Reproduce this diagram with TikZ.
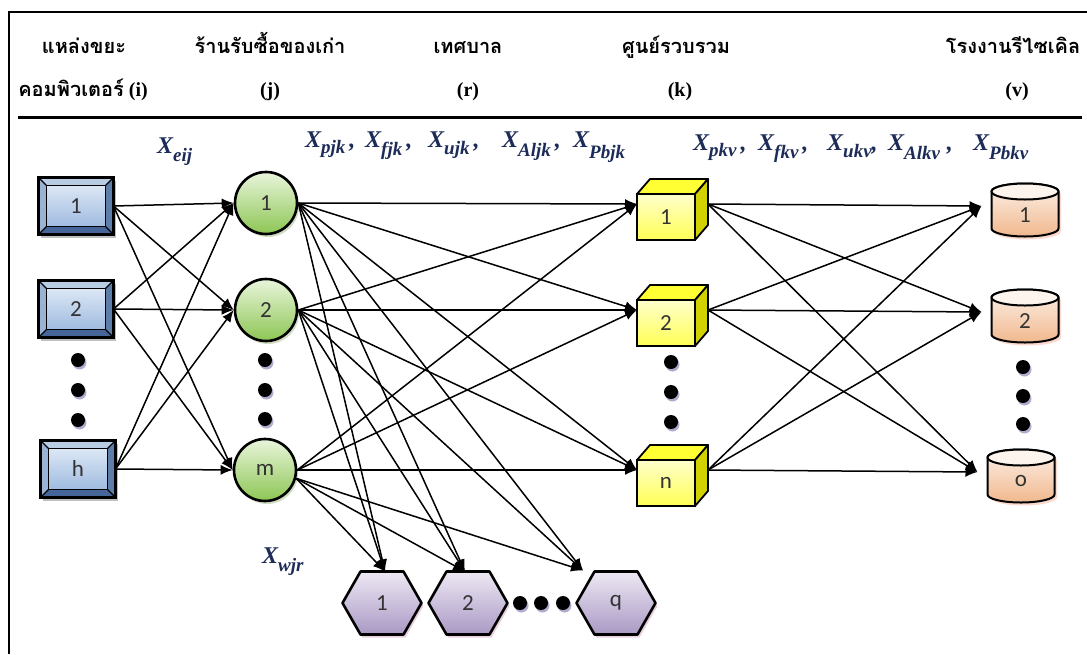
\documentclass[tikz,border=0pt]{standalone}
\usepackage{fontspec}
\setmainfont{Liberation Serif}
\newfontfamily\thaifont[Script=Thai]{Loma}
\newfontfamily\numfont{Carlito}
\usetikzlibrary{arrows.meta,calc,shadows}

\definecolor{labelblue}{HTML}{1C2B57}
\definecolor{srcface}{HTML}{7F9CC4}
\definecolor{srcbandT}{HTML}{B8CCE4}
\definecolor{srcbandL}{HTML}{9AB3D5}
\definecolor{srcbandR}{HTML}{5E7EAA}
\definecolor{srcbandB}{HTML}{46669A}
\definecolor{srcinT}{HTML}{DCE7F5}
\definecolor{srcinB}{HTML}{9FBBE0}
\definecolor{shopT}{HTML}{E9F5DC}
\definecolor{shopB}{HTML}{8CC653}
\definecolor{cubeT}{HTML}{FFFFCC}
\definecolor{cubeB}{HTML}{FFFF55}
\definecolor{cubeTop}{HTML}{FFFF33}
\definecolor{cubeSide}{HTML}{D2D200}
\definecolor{binT}{HTML}{FDF1E8}
\definecolor{binB}{HTML}{F0B88E}
\definecolor{binLid}{HTML}{FDF4EE}
\definecolor{hexT}{HTML}{EEE8F4}
\definecolor{hexB}{HTML}{A999C4}
\definecolor{dotshade}{HTML}{A9A3C9}

% X with a lowered subscript
\newcommand\xs[2][8pt]{X\raisebox{-#1}{\fontsize{19}{19}\selectfont #2}}

\tikzset{
  conn/.style={line width=1.5pt, -{Latex[length=12pt,width=10pt]}},
  numtxt/.style={font=\numfont\fontsize{23}{23}\selectfont, text=black!80, inner sep=0pt},
  hdr/.style={font=\bfseries\fontsize{20}{20}\selectfont, inner sep=0pt, anchor=base},
  varlbl/.style={font=\bfseries\itshape\fontsize{24}{24}\selectfont, text=labelblue, inner sep=0pt, anchor=base west},
  srcbox/.style={rectangle, draw=black, line width=2.2pt, fill=srcface, minimum width=75pt, minimum height=57pt, inner sep=0pt, outer sep=0pt,
    drop shadow={shadow xshift=2pt, shadow yshift=-3pt, fill=black, opacity=0.25}},
  shopnode/.style={circle, draw=black, line width=2.6pt, top color=shopT, bottom color=shopB, minimum size=62pt, inner sep=0pt,
    font=\numfont\fontsize{23}{23}\selectfont, text=black!80,
    drop shadow={shadow xshift=2pt, shadow yshift=-3pt, fill=shopB!70!black, opacity=0.3}},
  cubeface/.style={rectangle, draw=black, line width=1.8pt, top color=cubeT, bottom color=cubeB, minimum width=58pt, minimum height=46pt,
    inner sep=0pt, outer sep=0pt, font=\numfont\fontsize{23}{23}\selectfont, text=black!80},
  cubeline/.style={draw=black, line width=1.8pt, line join=round},
  placebox/.style={rectangle, draw=none, inner sep=0pt, outer sep=0pt},
  binline/.style={draw=black, line width=2pt, line join=round},
  hexline/.style={draw=black, line width=2.6pt, line join=round},
  dotmark/.style={circle, fill=black, minimum size=14pt, inner sep=0pt,
    drop shadow={shadow xshift=1.5pt, shadow yshift=-2.5pt, fill=dotshade, opacity=0.9}},
}

% bevelled source box: name, x, y, label
\newcommand\srcnode[4]{%
  \node[srcbox] (#1) at (#2,#3) {};
  \coordinate (#1-a) at ([shift={(8pt,-8pt)}]#1.north west);
  \coordinate (#1-b) at ([shift={(-8pt,-8pt)}]#1.north east);
  \coordinate (#1-c) at ([shift={(-8pt,8pt)}]#1.south east);
  \coordinate (#1-d) at ([shift={(8pt,8pt)}]#1.south west);
  \fill[srcbandT] (#1.north west) -- (#1.north east) -- (#1-b) -- (#1-a) -- cycle;
  \fill[srcbandR] (#1.north east) -- (#1.south east) -- (#1-c) -- (#1-b) -- cycle;
  \fill[srcbandB] (#1.south east) -- (#1.south west) -- (#1-d) -- (#1-c) -- cycle;
  \fill[srcbandL] (#1.south west) -- (#1.north west) -- (#1-a) -- (#1-d) -- cycle;
  \draw[line width=1.3pt, top color=srcinT, bottom color=srcinB] (#1-a) rectangle (#1-c);
  \draw[line width=1.1pt] (#1.north west) -- (#1-a) (#1.north east) -- (#1-b)
    (#1.south east) -- (#1-c) (#1.south west) -- (#1-d);
  \draw[line width=2.2pt] (#1.north west) rectangle (#1.south east);
  \node[numtxt] (#1-t) at (#1) {#4};
}

% box with top and side faces: name, x, y, label
\newcommand\cubenode[4]{%
  \node[cubeface] (#1) at (#2,#3) {#4};
  \draw[cubeline, fill=cubeTop] (#1.north west) -- ++(13pt,15pt) -- ++(58pt,0pt) -- (#1.north east) -- cycle;
  \draw[cubeline, fill=cubeSide] (#1.north east) -- ++(13pt,15pt) -- ++(0pt,-46pt) -- (#1.south east) -- cycle;
}

% drum: name, x, y, label
\newcommand\binnode[4]{%
  \node[placebox, minimum width=67pt, minimum height=53pt] (#1) at (#2,#3) {};
  \draw[binline, top color=binT, bottom color=binB,
        drop shadow={shadow xshift=2.5pt, shadow yshift=-3pt, fill=binB!80!red, opacity=0.35}]
    ([yshift=-8pt]#1.north west) -- ([yshift=8pt]#1.south west)
    arc[start angle=180, end angle=360, x radius=33.5pt, y radius=8pt]
    -- ([yshift=-8pt]#1.north east)
    arc[start angle=0, end angle=180, x radius=33.5pt, y radius=8pt] -- cycle;
  \draw[binline, fill=binLid] ([yshift=-8pt]#1.north) ellipse[x radius=33.5pt, y radius=8pt];
  \node[numtxt] (#1-t) at ([yshift=-5pt]#1.center) {#4};
}

% hexagon: name, x, y, label
\newcommand\hexnode[4]{%
  \node[placebox, minimum width=79pt, minimum height=63pt] (#1) at (#2,#3) {};
  \draw[hexline, top color=hexT, bottom color=hexB,
        drop shadow={shadow xshift=2pt, shadow yshift=-3pt, fill=hexB!80!red, opacity=0.35}]
    (#1.west) -- ([xshift=18pt]#1.north west) -- ([xshift=-18pt]#1.north east) -- (#1.east)
    -- ([xshift=-18pt]#1.south east) -- ([xshift=18pt]#1.south west) -- cycle;
  \node[numtxt] (#1-t) at (#1) {#4};
}

\begin{document}
\begin{tikzpicture}[x=1pt,y=-1pt]
\useasboundingbox (0,0) rectangle (1087,654);

% frame and header rule
\draw[line width=1.5pt] (9,654) -- (9,12) -- (1087,12);
\draw[line width=3pt] (18,117) -- (1082,117);

% column headings
\node[hdr] (h1a) at (84,53) {{\thaifont แหล่งขยะ}};
\node[hdr] (h1b) at (83,96) {{\thaifont คอมพิวเตอร์} (i)};
\node[hdr] (h2a) at (270,53) {{\thaifont ร้านรับซื้อของเก่า}};
\node[hdr] (h2b) at (270,96) {(j)};
\node[hdr] (h3a) at (468,53) {{\thaifont เทศบาล}};
\node[hdr] (h3b) at (468,96) {(r)};
\node[hdr] (h4a) at (676,53) {{\thaifont ศูนย์รวบรวม}};
\node[hdr] (h4b) at (680,96) {(k)};
\node[hdr] (h5a) at (1013,53) {{\thaifont โรงงานรีไซเคิล}};
\node[hdr] (h5b) at (1017,96) {(v)};

% flow variable labels
\node[varlbl] (le) at (157,153) {\xs[8pt]{eij}};
\node[varlbl] (lk) at (305,147) {\makebox[60pt][l]{\xs[6pt]{pjk}\,,}\makebox[63pt][l]{\xs[8pt]{fjk}\,,}\makebox[74pt][l]{\xs[7pt]{ujk}\,,}\makebox[71pt][l]{\xs[9pt]{Aljk}\,,}\xs[11pt]{Pbjk}};
\node[varlbl] (lv) at (693,150) {\makebox[65pt][l]{\xs[6pt]{pkv}\,,}\makebox[69pt][l]{\xs[8pt]{fkv}\,,}\makebox[61pt][l]{\xs[7pt]{ukv},}\makebox[85pt][l]{\xs[9pt]{Alkv}\;,}\xs[9pt]{Pbkv}};
\node[varlbl] (lw) at (262,563) {\xs[8pt]{wjr}};

% sources i
\srcnode{i1}{76}{206}{1}
\srcnode{i2}{76}{309}{2}
\srcnode{ih}{78}{469}{h}
% shops j
\node[shopnode] (j1) at (266,203) {1};
\node[shopnode] (j2) at (266,310) {2};
\node[shopnode] (jm) at (265,470) {m};
% collection centres k
\cubenode{k1}{666}{217}{1}
\cubenode{k2}{666}{323}{2}
\cubenode{kn}{666}{483}{n}
% recycling plants v
\binnode{v1}{1025}{210}{1}
\binnode{v2}{1025}{316}{2}
\binnode{vo}{1021}{476}{o}
% municipalities r
\hexnode{r1}{382}{603}{1}
\hexnode{r2}{468}{603}{2}
\hexnode{rq}{616}{603}{q}

% ellipsis dots
\foreach \n/\x/\y in {di1/78/360, di2/78/390, di3/78/420,
                      dj1/265/360, dj2/265/390, dj3/265/419,
                      dk1/671/362, dk2/671/392, dk3/671/422,
                      dv1/1023/367, dv2/1023/396, dv3/1023/424,
                      dr1/520/603, dr2/541/603, dr3/563/603}
  \node[dotmark] (\n) at (\x,\y) {};

% flows i -> j
\foreach \a in {i1,i2,ih}
  \foreach \b in {j1,j2,jm}
    \draw[conn] (\a.east) -- (\b.west);

% flows j -> k
\foreach \a in {j1,j2,jm}
  \foreach \b in {k1,k2,kn}
    \draw[conn] (\a.east) -- ([yshift=13pt]\b.west);

% flows j -> r
\foreach \a/\s in {j1/0,j2/0,jm/-15}
  {
    \draw[conn] (\a.\s) -- ([xshift=3pt]r1.north);
    \draw[conn] (\a.\s) -- ([xshift=-3pt]r2.north);
    \draw[conn] (\a.\s) -- ([xshift=-33pt,yshift=1pt]rq.north);
  }

% flows k -> v
\foreach \a in {k1,k2,kn}
  \foreach \b in {v1,v2,vo}
    \draw[conn] ([shift={(13pt,13pt)}]\a.east) -- ([shift={(-10pt,4pt)}]\b.west);

\end{tikzpicture}
\end{document}
